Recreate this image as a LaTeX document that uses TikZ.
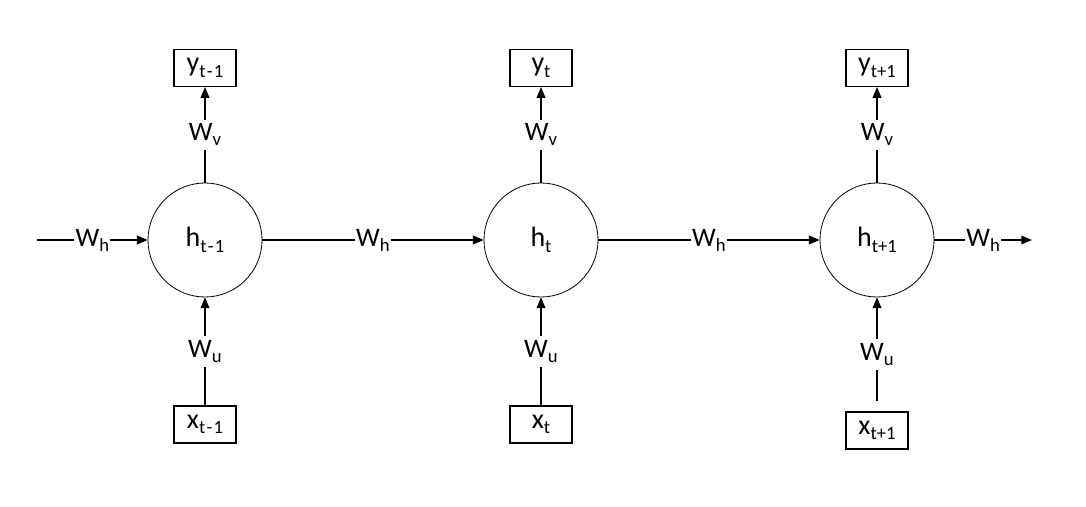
\documentclass[tikz,border=0pt]{standalone}
\usepackage{fontspec}
\setmainfont{Carlito}
\usetikzlibrary{arrows.meta}
\newcommand{\pedice}[1]{\raisebox{-0.4ex}{\fontsize{14}{14}\selectfont #1}}
\newcommand{\meno}{\kern1pt-\kern1pt}

\begin{document}
\begin{tikzpicture}[
	x=0.75pt, y=0.75pt,
	freccia/.style={line width=1pt, -{Triangle[length=8pt, width=6.5pt]}},
	cella/.style={circle, draw=black, fill=white, line width=0.6pt,
		inner sep=0pt, minimum size=85.5pt,
		font=\fontsize{21}{24}\selectfont},
	scatola/.style={rectangle, draw=black, line width=0.9pt,
		inner sep=2pt, minimum width=46.5pt, minimum height=27.75pt,
		font=\fontsize{21}{24}\selectfont},
	peso/.style={fill=white, inner xsep=1pt, inner ysep=3pt,
		font=\fontsize{20}{24}\selectfont},
	]
	\useasboundingbox (0,0) rectangle (1086,507);
	
	% celle nascoste
	\node[cella] (h1) at (205,267) {h\pedice{t\meno 1}};
	\node[cella] (h2) at (541,267) {h\pedice{t}};
	\node[cella] (h3) at (877,267) {h\pedice{t+1}};
	
	% uscite
	\node[scatola] (y1) at (205,439) {y\pedice{t\meno 1}};
	\node[scatola] (y2) at (541,439) {y\pedice{t}};
	\node[scatola] (y3) at (877,439) {y\pedice{t+1}};
	
	% ingressi
	\node[scatola] (x1) at (205,82.5) {x\pedice{t\meno 1}};
	\node[scatola] (x2) at (541,82.5) {x\pedice{t}};
	\node[scatola] (x3) at (877,76.5) {x\pedice{t+1}};
	
	% estremi liberi della catena
	\coordinate (in0)  at (37,267);
	\coordinate (out3) at (1032,267);
	
	% collegamenti orizzontali
	\draw[freccia] (in0) -- (h1)
		node[midway, peso]{W\pedice{h}};
	\draw[freccia] (h1) -- (h2)
		node[midway, peso]{W\pedice{h}};
	\draw[freccia] (h2) -- (h3)
		node[midway, peso]{W\pedice{h}};
	\draw[freccia] (h3) -- (out3)
		node[midway, peso]{W\pedice{h}};
	
	% verso le uscite
	\draw[freccia] (h1) -- (y1) node[midway, peso]{W\pedice{v}};
	\draw[freccia] (h2) -- (y2) node[midway, peso]{W\pedice{v}};
	\draw[freccia] (h3) -- (y3) node[midway, peso]{W\pedice{v}};
	
	% dagli ingressi
	\draw[freccia] (x1) -- (h1) node[midway, peso]{W\pedice{u}};
	\draw[freccia] (x2) -- (h2) node[midway, peso]{W\pedice{u}};
	\draw[freccia, shorten <=8pt] (x3) -- (h3)
		node[midway, peso]{W\pedice{u}};
	
\end{tikzpicture}
\end{document}
